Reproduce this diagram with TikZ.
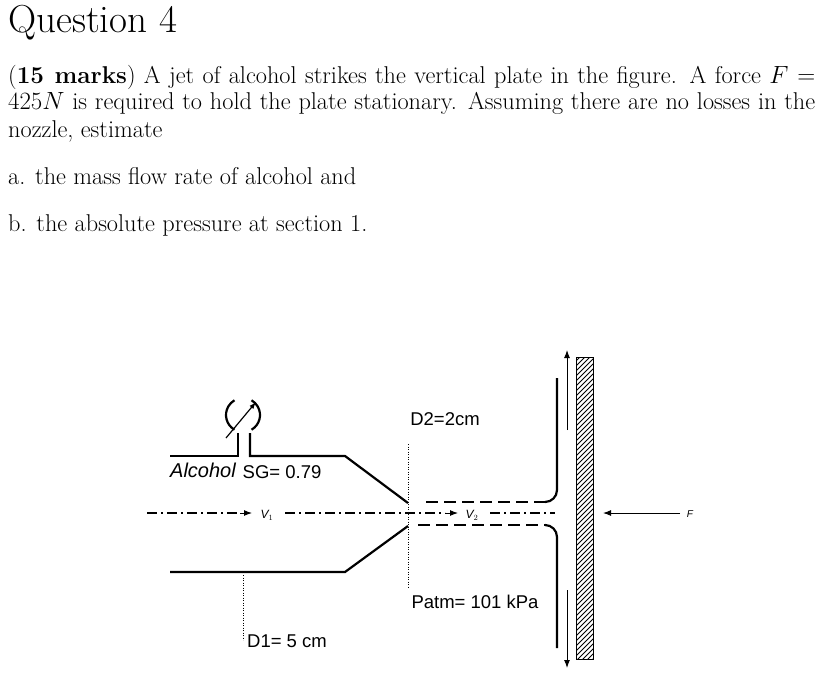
\documentclass[tikz,border=0pt]{standalone}
\usepackage{fontspec}
\newfontfamily\arial{Liberation Sans}
\usetikzlibrary{arrows.meta}
\begin{document}
\begin{tikzpicture}[x=1pt,y=-1pt,
  wall/.style={line width=2.2pt},
  cl/.style={line width=1.8pt,dash pattern=on 10pt off 4pt on 2pt off 4pt},
  jet/.style={line width=2.2pt,dash pattern=on 12pt off 6pt},
  dot/.style={line width=0.5pt,dotted},
  arr/.style={line width=1pt,-{Latex[length=8pt,width=6pt]}},
  lab/.style={font=\arial\fontsize{18.5}{18.5}\selectfont,inner sep=0pt},
  body/.style={anchor=base west,inner sep=0pt,font=\fontsize{24.3}{26}\selectfont}]
\useasboundingbox (0,0) rectangle (837,682);
\node[anchor=base west,inner sep=0pt,font=\fontsize{39}{40}\selectfont] (q) at (8,33) {Question 4};
\node[body] (l1) at (8,84) {\makebox[807pt][s]{(\textbf{15 marks}) A jet of alcohol strikes the vertical plate in the figure. A force $F=$}};
\node[body] (l2) at (8,110) {\makebox[807pt][s]{$425N$ is required to hold the plate stationary. Assuming there are no losses in the}};
\node[body] (l3) at (8,137) {nozzle, estimate};
\node[body] (l4) at (8,184) {a. the mass flow rate of alcohol and};
\node[body] (l5) at (8,231) {b. the absolute pressure at section 1.};
% pipe
\draw[wall] (170,456) -- (238,456) -- (238,433);
\draw[wall] (250,433) -- (250,456) -- (345,456) -- (408,503);
\draw[wall] (170,572) -- (345,572) -- (408,526);
% gauge
\draw[wall] (243,415) ++(120:17) arc (120:240:17);
\draw[wall] (243,415) ++(60:17) arc (60:-60:17);
\draw[line width=1.2pt,-{Latex[length=7pt,width=5pt]}] (226,438) -- (256,402);
% centre line
\coordinate (c0) at (147,513);
\coordinate (c1) at (252,513);
\node[lab,font=\arial\itshape\fontsize{12}{12}\selectfont] (v1) at (267,515) {V$_1$};
\coordinate (c2) at (285,513);
\coordinate (c3) at (458,513);
\node[lab,font=\arial\itshape\fontsize{12}{12}\selectfont] (v2) at (472,515) {V$_2$};
\coordinate (c4) at (490,513);
\coordinate (c5) at (555,513);
\draw[cl] (c0) -- (240,513);
\draw[arr] (240,513) -- (c1);
\draw[cl] (c2) -- (445,513);
\draw[arr] (445,513) -- (c3);
\draw[cl] (c4) -- (c5);
% dotted sections
\draw[dot] (243,575) -- (243,640);
\draw[dot] (408,444) -- (408,587);
% jet
\draw[jet] (426,502) -- (545,502);
\draw[wall] (545,502) to[out=0,in=-90] (557,490) -- (557,378);
\draw[jet] (418,525) -- (545,525);
\draw[wall] (545,525) to[out=0,in=90] (557,537) -- (557,648);
% plate
\node[draw,line width=1pt,minimum width=17pt,minimum height=302pt,inner sep=0pt] (plate) at (584.5,508) {};
\begin{scope}
\clip (576,357) rectangle (593,659);
\foreach \k in {0,5,...,330} \draw[line width=0.8pt] (570,357+\k) -- (600,357+\k-30);
\end{scope}
\draw[arr] (567,430) -- (567,350);
\draw[arr] (567,590) -- (567,668);
\coordinate (fs) at (680,513);
\draw[arr] (fs) -- (603,513);
\node[lab,font=\arial\itshape\fontsize{10}{10}\selectfont] (F) at (690,514) {F};
% labels
\node[lab] (d2) at (445,419) {D2=2cm};
\node[lab,font=\arial\itshape\fontsize{20}{20}\selectfont] (alc) at (203,470) {Alcohol};
\node[lab] (sg) at (282,472) {SG= 0.79};
\node[lab] (patm) at (475,602) {Patm= 101 kPa};
\node[lab] (d1) at (287,641) {D1= 5 cm};
\end{tikzpicture}
\end{document}
